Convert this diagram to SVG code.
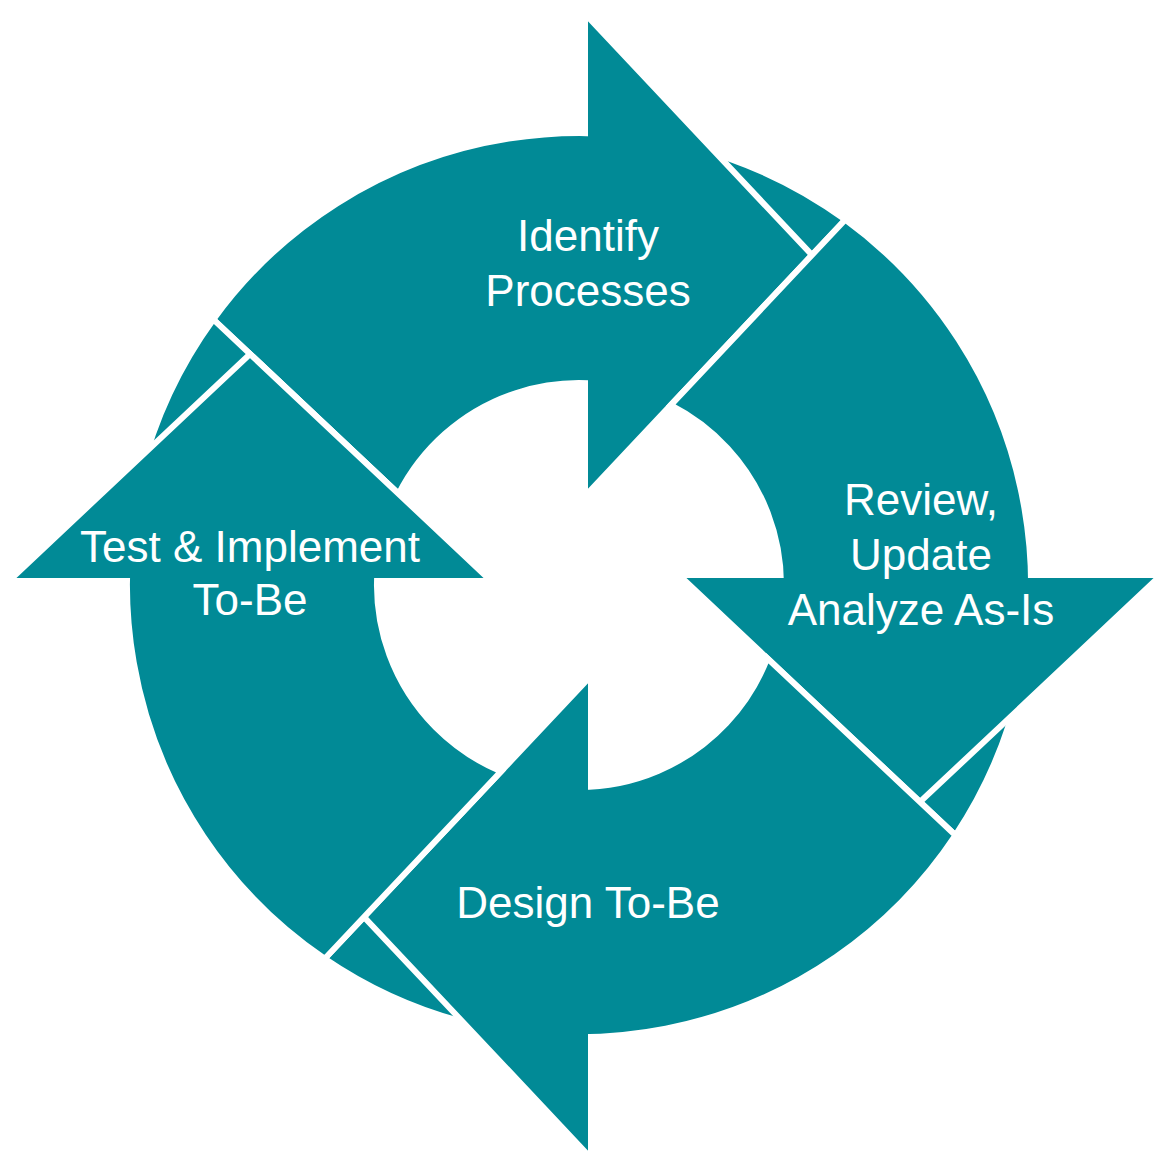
<svg xmlns="http://www.w3.org/2000/svg" width="1174" height="1162" viewBox="0 0 1174 1162">
<style>
.body{fill:#018A96;stroke:#FFFFFF;stroke-width:6;stroke-linejoin:miter}
.head{fill:#018A96;stroke:none}
.edge{fill:none;stroke:#FFFFFF;stroke-width:6;stroke-linejoin:miter}
.lbl{fill:#FFFFFF;font-family:"Liberation Sans",Arial,sans-serif;font-size:44px;text-anchor:middle}
</style>
<rect width="1174" height="1162" fill="#FFFFFF"/>
<g id="node-identify">
<path class="body" d="M 398.7 493.9 L 213.3 319.4 A 452 452 0 0 1 845.2 219.7 L 670.8 405.1 A 202 202 0 0 0 398.7 493.9 Z"/>
<path class="head" d="M 588 17 L 812 255 L 588 493 Z"/>
<path class="edge" d="M 588 17 L 812 255 L 588 493"/>
<text class="lbl" x="588" y="251">Identify</text>
<text class="lbl" x="588" y="306">Processes</text>
</g>
<g id="node-review">
<path class="body" d="M 670.8 405.1 L 845.2 219.7 A 452 452 0 0 1 955.4 835.3 L 767.3 658.2 A 202 202 0 0 0 670.8 405.1 Z"/>
<path class="head" d="M 1158 578 L 920 802 L 682 578 Z"/>
<path class="edge" d="M 1158 578 L 920 802 L 682 578"/>
<text class="lbl" x="921" y="515">Review,</text>
<text class="lbl" x="921" y="570">Update</text>
<text class="lbl" x="921" y="625">Analyze As-Is</text>
</g>
<g id="node-design">
<path class="body" d="M 767.3 658.2 L 955.4 835.3 A 452 452 0 0 1 324.7 958.7 L 501.1 771.4 A 202 202 0 0 0 767.3 658.2 Z"/>
<path class="head" d="M 588 1155 L 364 917 L 588 679 Z"/>
<path class="edge" d="M 588 1155 L 364 917 L 588 679"/>
<text class="lbl" x="588" y="918">Design To-Be</text>
</g>
<g id="node-test">
<path class="body" d="M 501.1 771.4 L 324.7 958.7 A 452 452 0 0 1 213.3 319.4 L 398.7 493.9 A 202 202 0 0 0 501.1 771.4 Z"/>
<path class="head" d="M 12 578 L 250 354 L 488 578 Z"/>
<path class="edge" d="M 12 578 L 250 354 L 488 578"/>
<text class="lbl" x="250" y="562">Test &amp; Implement</text>
<text class="lbl" x="250" y="615">To-Be</text>
</g>
</svg>
